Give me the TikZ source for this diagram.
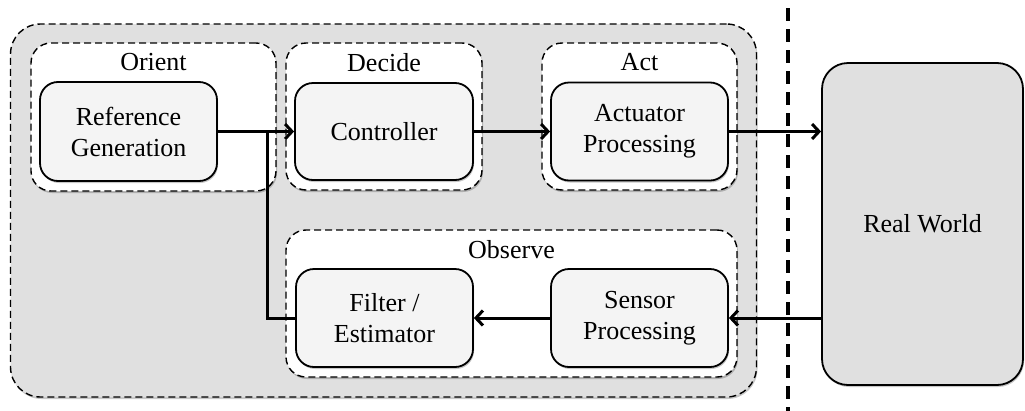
\documentclass[tikz,border=0pt]{standalone}
\usepackage{fontspec}
\setmainfont{Liberation Serif}
\usetikzlibrary{arrows.meta,shadows}
\definecolor{panelgray}{RGB}{224,224,224}
\definecolor{blockfill}{RGB}{244,244,244}
\begin{document}
\begin{tikzpicture}[x=1pt,y=-1pt,
  txt/.style={font=\fontsize{26}{31}\selectfont, align=center},
  softshadow/.style={drop shadow={shadow xshift=1pt, shadow yshift=-2pt, opacity=0.22, fill=black}},
  outerbox/.style={draw, dash pattern=on 7pt off 4pt, line width=1.4pt,
    fill=panelgray, rounded corners=30pt, softshadow, inner sep=0pt},
  groupbox/.style={draw, dash pattern=on 7pt off 4pt, line width=1.4pt,
    fill=white, rounded corners=20pt, softshadow, inner sep=0pt},
  blockbox/.style={txt, draw, line width=1.8pt, fill=blockfill,
    rounded corners=18pt, softshadow, inner sep=2pt},
  worldbox/.style={txt, draw, line width=1.8pt, fill=panelgray,
    rounded corners=26pt, softshadow},
  grouplabel/.style={txt, inner sep=0pt},
  flow/.style={line width=3pt, -{Straight Barb[length=7pt, width=15pt, line width=3pt]}},
  feed/.style={line width=3pt},
  boundary/.style={line width=3.5pt, dash pattern=on 13pt off 8pt},
]
\useasboundingbox (0,0) rectangle (1025,410);

% outer processing panel
\node[outerbox, minimum width=746pt, minimum height=373pt] (panel) at (383.5,210.5) {};

% OODA groups
\node[groupbox, minimum width=245pt, minimum height=148pt] (orient) at (153.5,117) {};
\node[groupbox, minimum width=196pt, minimum height=147pt] (decide) at (384,116.5) {};
\node[groupbox, minimum width=195pt, minimum height=147pt] (act) at (639.5,116.5) {};
\node[groupbox, minimum width=451pt, minimum height=147pt] (observe) at (511.5,303.5) {};

\node[grouplabel, below=11pt] at (orient.north) {Orient};
\node[grouplabel, below=11pt] at (decide.north) {Decide};
\node[grouplabel, below=11pt] at (act.north) {Act};
\node[grouplabel, below=11pt] at (observe.north) {Observe};

% processing blocks
\node[blockbox, minimum width=177pt, minimum height=99pt] (ref) at (128.5,131.5) {Reference\\Generation};
\node[blockbox, minimum width=178pt, minimum height=97pt] (ctrl) at (384,131.5) {Controller};
\node[blockbox, minimum width=177pt, minimum height=98pt] (actu) at (639.5,131.5) {Actuator\\Processing};
\node[blockbox, minimum width=177pt, minimum height=98pt] (filter) at (384.5,318) {Filter /\\Estimator};
\node[blockbox, minimum width=177pt, minimum height=98pt] (sensor) at (639.5,318) {Sensor\\Processing};

% environment
\node[worldbox, minimum width=201pt, minimum height=322pt] (world) at (922.5,224) {Real World};

% system boundary
\coordinate (bndtop) at (788,8);
\coordinate (bndbot) at (788,412);
\draw[boundary] (bndtop) -- (bndbot);

% signal flow
\coordinate (join) at (267,131.5);
\draw[flow] (ref) -- (ctrl);
\draw[flow] (ctrl) -- (actu);
\draw[flow] (actu.east) -- (actu.east -| world.west);
\draw[flow] (world.west |- sensor.east) -- (sensor.east);
\draw[flow] (sensor) -- (filter);
\draw[feed] (filter.west) -| (join);
\end{tikzpicture}
\end{document}
